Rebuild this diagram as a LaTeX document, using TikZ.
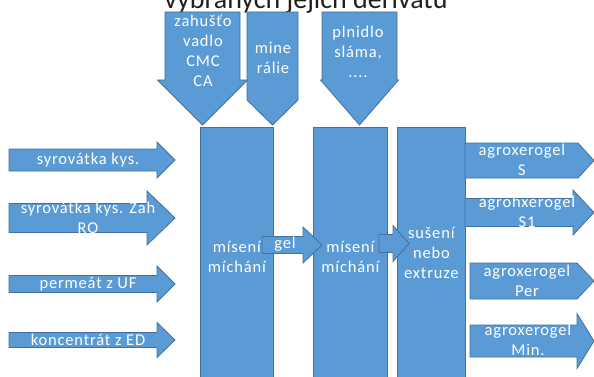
\documentclass[tikz,border=0pt]{standalone}
\usepackage{fontspec}
\setmainfont{Carlito}
\newfontfamily\boxfont[LetterSpace=5]{Carlito}
\usetikzlibrary{positioning}
\definecolor{boxblue}{RGB}{91, 155, 213}
\definecolor{boxline}{RGB}{65, 113, 156}
\definecolor{titlegray}{RGB}{35, 30, 25}
\tikzset{
	blk/.style = {fill = boxblue, draw = boxline, line width = 0.8pt},
	lbl/.style = {text = white, align = center, inner sep = 0pt, font = \boxfont\fontsize{16.5}{20}\selectfont},
	procbox/.style = {blk, lbl, anchor = north west, minimum height = 260pt},
	headline/.style = {anchor = base, text = titlegray, inner sep = 0pt, font = \fontsize{28}{34}\selectfont}
}
% block arrow to the right: start x, head x, tip x, mid y, half shaft, half head
\newcommand{\rarr}[6]{\draw[blk] (#1, #4-#5) -- (#2, #4-#5) -- (#2, #4-#6) -- (#3, #4)
	-- (#2, #4+#6) -- (#2, #4+#5) -- (#1, #4+#5) -- cycle;}
% block arrow downwards: mid x, start y, head y, tip y, half shaft, half head
\newcommand{\darr}[6]{\draw[blk] (#1-#5, #2) -- (#1+#5, #2) -- (#1+#5, #3) -- (#1+#6, #3)
	-- (#1, #4) -- (#1-#6, #3) -- (#1-#5, #3) -- cycle;}

\begin{document}
\begin{tikzpicture}[x = 1pt, y = -1pt]
\useasboundingbox (0, 0) rectangle (594, 377);
\clip (0, 0) rectangle (594, 377);

\node[headline] (title) at (306, 9) {vybraných jejich derivátů};

% additives from above
\darr{202.5}{12}{80}{125}{37.5}{45}
\darr{272.5}{12}{100}{125}{25.5}{25.5}
\darr{359.5}{12}{80}{125}{37.5}{39}
\node[lbl] (thickener) at (203, 51) {zahušťo\\vadlo\\CMC\\CA};
\node[lbl] (minerals) at (273, 58) {mine\\rálie};
\node[lbl] (filler) at (358, 52) {plnidlo\\sláma,\\....};

% process steps
\node[procbox, minimum width = 73pt] (mix1) at (200, 127) {mísení\\míchání};
\node[procbox, minimum width = 74pt] (mix2) at (313, 127) {mísení\\míchání};
\node[procbox, minimum width = 68pt, minimum height = 252pt] (dry) at (397, 127) {sušení\\nebo\\extruze};

% inputs
\foreach \y / \s / \h / \e in {160/11/18/157, 218/14.5/27/147, 284/8.5/18/157, 340/7.5/17.5/157}{
	\rarr{9}{\e}{175}{\y}{\s}{\h}
}
\node[lbl] (whey) at (88, 160) {syrovátka kys.};
\node[lbl] (wheyro) at (88, 218) {syrovátka kys. Zah\\RO};
\node[lbl] (permeate) at (88, 284) {permeát z UF};
\node[lbl] (concentrate) at (88, 340) {koncentrát z ED};

% products
\rarr{465}{578}{594}{160.5}{17.5}{17.5}
\rarr{465}{573}{594}{212.5}{14}{22.5}
\rarr{470}{577}{594}{281}{18}{18}
\rarr{470}{577}{594}{341}{16}{27.5}
\node[lbl] (prodS) at (522, 160) {agroxerogel\\S};
\node[lbl] (prodSone) at (527, 212) {agrohxerogel\\S1};
\node[lbl] (prodPer) at (527, 281) {agroxerogel\\Per};
\node[lbl] (prodMin) at (528, 340) {agroxerogel\\Min.};

% between the steps
\rarr{262}{303}{322}{245}{8.5}{18}
\rarr{379}{393}{409}{243.5}{9}{18}
\node[lbl] (gel) at (285, 244) {gel};

\end{tikzpicture}
\end{document}
